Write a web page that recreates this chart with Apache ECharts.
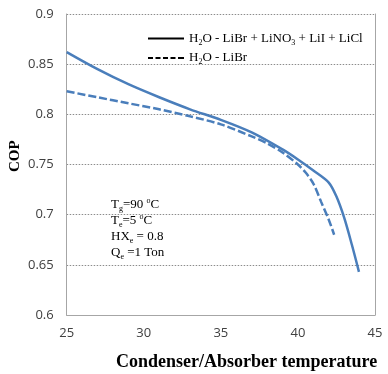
<!DOCTYPE html>
<html><head><meta charset="utf-8">
<script src="https://cdn.jsdelivr.net/npm/echarts@6/dist/echarts.min.js"></script>
<style>html,body{margin:0;padding:0;background:#fff}#c{width:388px;height:374px}</style>
</head><body><div id="c"></div>
<script>
const mixX = [25, 27, 29, 31, 33, 35, 37, 39, 40, 41, 42, 42.5, 43, 43.5, 43.96];
const mixY = [0.862, 0.845, 0.830, 0.817, 0.805, 0.7945, 0.782, 0.765, 0.755, 0.744, 0.732, 0.718, 0.697, 0.670, 0.643];
const librX = [25, 27, 29, 31, 33, 35, 37, 38, 39, 40, 40.5, 41, 41.5, 42, 42.35];
const librY = [0.823, 0.817, 0.811, 0.805, 0.798, 0.790, 0.778, 0.771, 0.762, 0.750, 0.742, 0.731, 0.713, 0.695, 0.680];
const xTicks = [25, 30, 35, 40, 45];
const yTicks = [0.6, 0.65, 0.7, 0.75, 0.8, 0.85, 0.9];
const seriesNames = ['H2O - LiBr + LiNO3 + LiI + LiCl', 'H2O - LiBr'];

const serif = '"Liberation Serif", "DejaVu Serif", serif';
const sans = '"Open Sans", "Liberation Sans", sans-serif';
const blue = '#4A7EBB';

const chart = echarts.init(document.getElementById('c'), null, {renderer: 'canvas'});
const rich = {
  n: {fontFamily: serif, fontSize: 13, color: '#000', lineHeight: 16},
  s: {fontFamily: serif, fontSize: 8, color: '#000', lineHeight: 7, verticalAlign: 'bottom'},
  p: {fontFamily: serif, fontSize: 8, color: '#000', lineHeight: 8, verticalAlign: 'top'}
};
chart.setOption({
  animation: false,
  grid: {left: 66.7, right: 13, top: 14, bottom: 59, containLabel: false},
  xAxis: {
    type: 'value', min: xTicks[0], max: xTicks[xTicks.length - 1], interval: 5,
    axisLine: {show: true, lineStyle: {color: '#a6a6a6', width: 1}},
    axisTick: {show: false},
    splitLine: {show: false},
    axisLabel: {margin: 12, fontFamily: sans, fontSize: 13, color: '#404040'}
  },
  yAxis: [{
    type: 'value', min: yTicks[0], max: yTicks[yTicks.length - 1], interval: 0.05,
    axisLine: {show: true, lineStyle: {color: '#a6a6a6', width: 1}},
    axisTick: {show: false},
    splitLine: {show: true, lineStyle: {color: '#8c8c8c', type: [1.5, 1.5], width: 1}},
    axisLabel: {margin: 13, fontFamily: sans, fontSize: 13, color: '#404040',
      formatter: v => String(+v.toFixed(2))}
  }, {
    type: 'value', position: 'right', min: yTicks[0], max: yTicks[yTicks.length - 1], interval: 0.05,
    axisLine: {show: true, lineStyle: {color: '#a6a6a6', width: 1}},
    axisTick: {show: false}, axisLabel: {show: false}, splitLine: {show: false}
  }],
  legend: {
    show: true, orient: 'vertical', left: 148, top: 32, itemGap: 5, padding: 0,
    itemWidth: 36, itemHeight: 2, symbolKeepAspect: false,
    data: [
      {name: seriesNames[0], icon: 'path://M0,0h36v2h-36z', itemStyle: {color: '#000'}},
      {name: seriesNames[1], icon: 'path://M0,0h5v2h-5zM7.5,0h5v2h-5zM15,0h5v2h-5zM22.5,0h5v2h-5zM30,0h6v2h-6z', itemStyle: {color: '#000'}}
    ],
    formatter: function (name) {
      if (name === seriesNames[0]) return '{n|H}{s|2}{n|O - LiBr + LiNO}{s|3}{n| + LiI + LiCl}';
      return '{n|H}{s|2}{n|O - LiBr}';
    },
    textStyle: {rich: rich}
  },
  series: [{
    name: seriesNames[0], type: 'line', smooth: 0.3, symbol: 'none', yAxisIndex: 0,
    lineStyle: {color: blue, width: 2.5},
    itemStyle: {color: blue},
    data: mixX.map((x, i) => [x, mixY[i]])
  }, {
    name: seriesNames[1], type: 'line', smooth: 0.3, symbol: 'none', yAxisIndex: 0,
    lineStyle: {color: blue, width: 2.5, type: [8, 3]},
    itemStyle: {color: blue},
    data: librX.map((x, i) => [x, librY[i]])
  }],
  graphic: [{
    type: 'text', left: 116, top: 353,
    style: {text: 'Condenser/Absorber temperature', font: 'bold 18px ' + serif, fill: '#000'}
  }, {
    type: 'text', x: 8, y: 172, rotation: Math.PI / 2,
    style: {text: 'COP', font: 'bold 15px ' + serif, fill: '#000'}
  }, {
    type: 'text', left: 111, top: 197,
    style: {
      text: '{n|T}{s|g}{n|=90 }{p|o}{n|C}\n{n|T}{s|e}{n|=5 }{p|o}{n|C}\n{n|HX}{s|e}{n| = 0.8}\n{n|Q}{s|e}{n| =1 Ton}',
      rich: rich
    }
  }]
});
</script>
</body></html>
